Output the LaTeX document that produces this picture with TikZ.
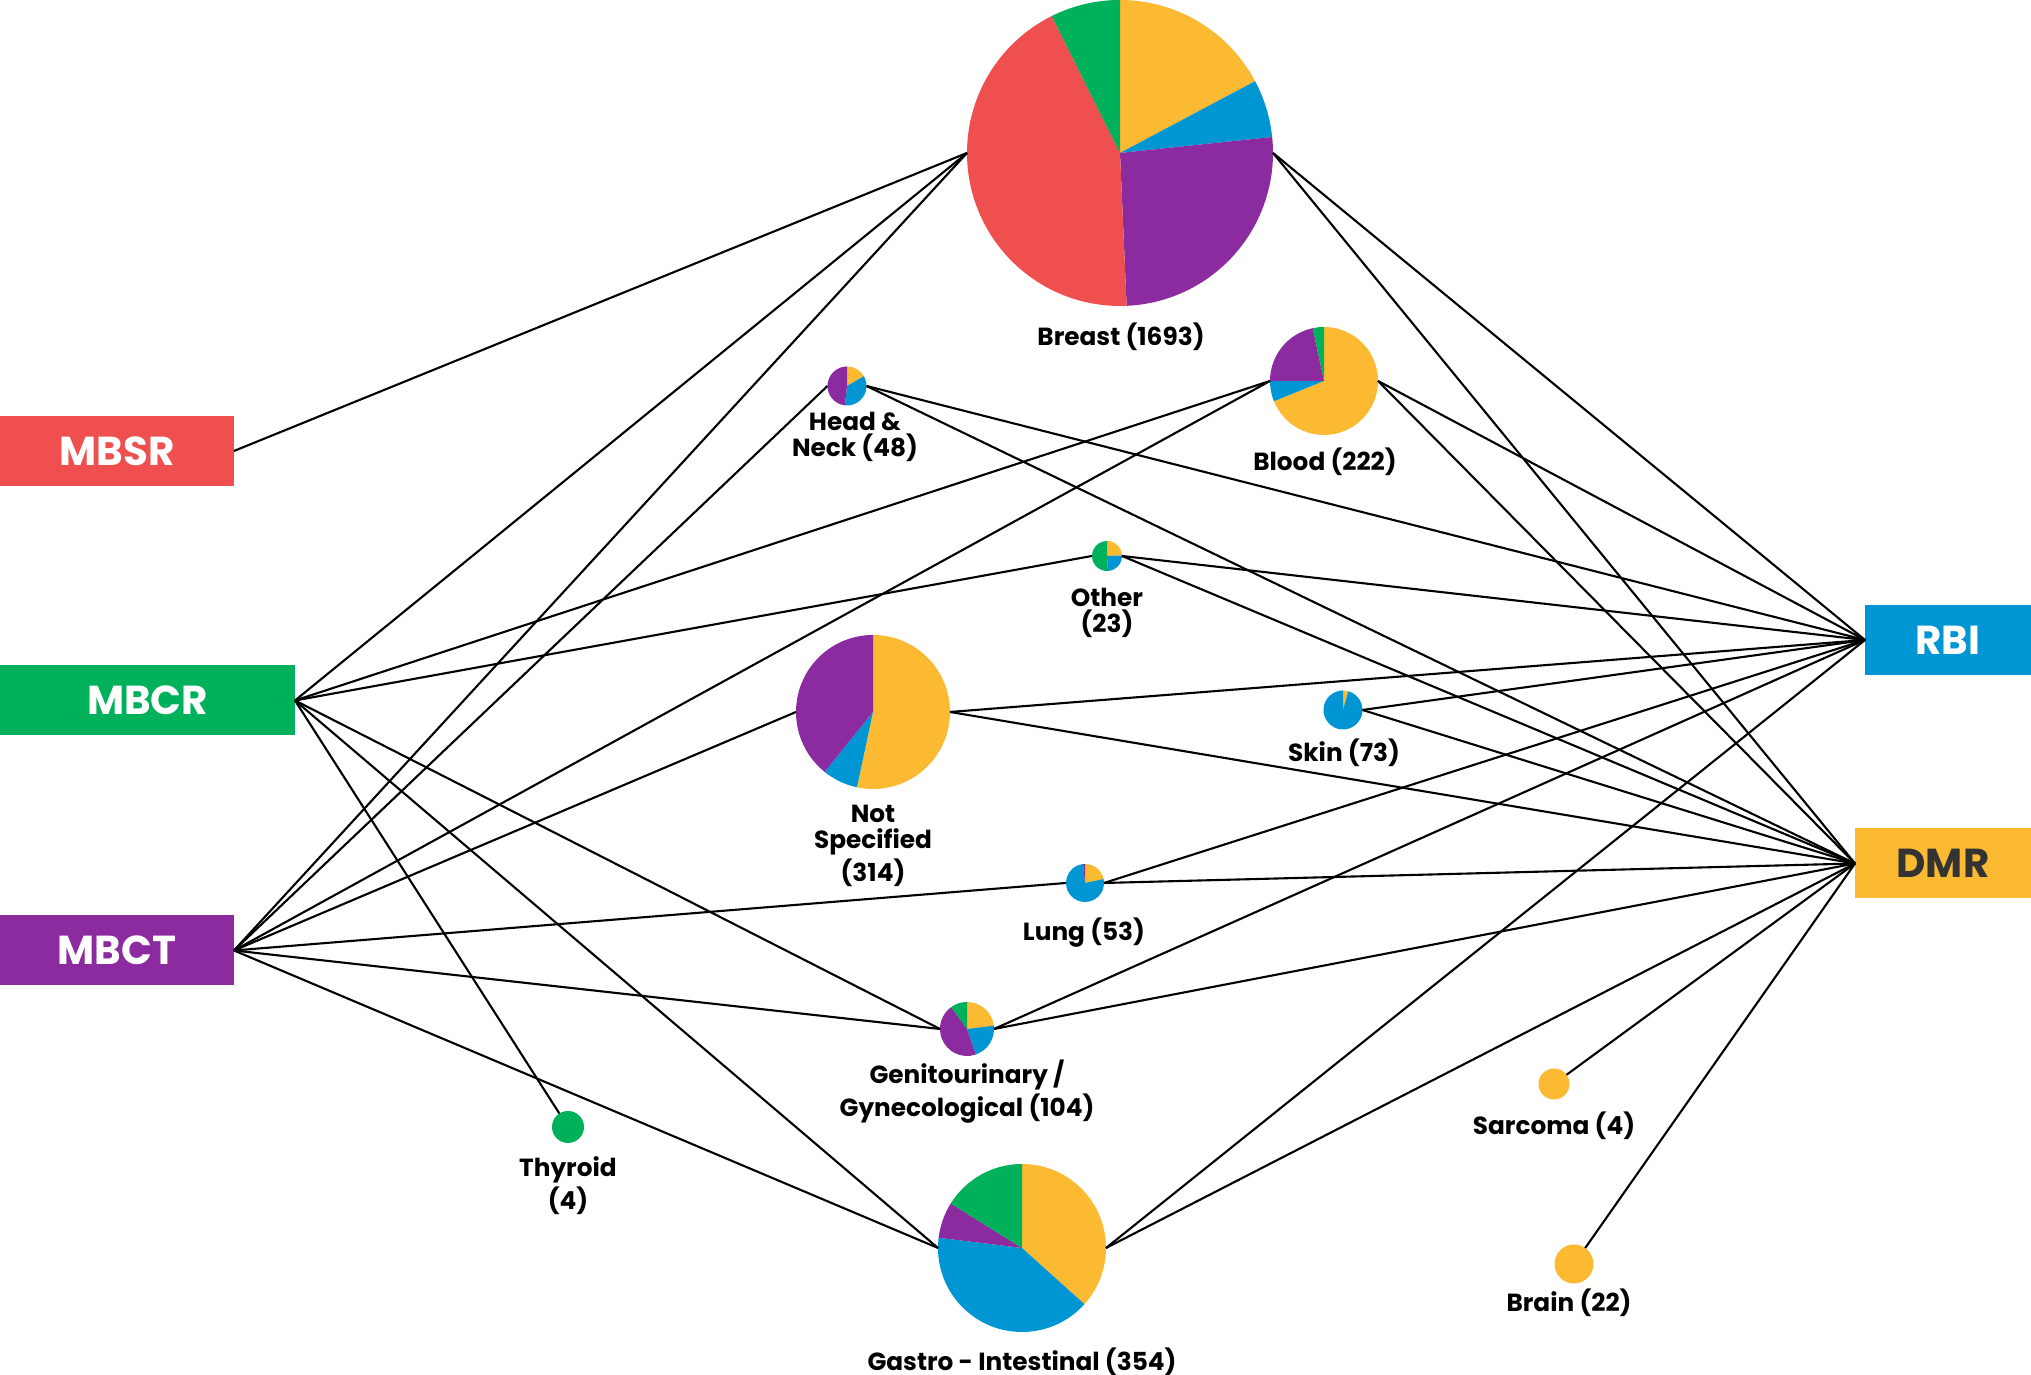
\documentclass[tikz,border=0pt]{standalone}
\usepackage{fontspec}
\setmainfont{Poppins}
\usetikzlibrary{
  calc,
}
\definecolor{mbsr}{HTML}{F04F4F}
\definecolor{mbcr}{HTML}{00B15B}
\definecolor{mbct}{HTML}{8C2A9F}
\definecolor{rbi}{HTML}{0096D4}
\definecolor{dmr}{HTML}{FBBA32}
\definecolor{dmrtext}{HTML}{333333}

\begin{document}
\begin{tikzpicture}[
    box/.style={
        rectangle, inner sep=0pt, outer sep=0pt,
        minimum height=.70cm, text=white,
        font=\fontsize{11.5}{12}\selectfont\bfseries,
      },
    pie/.style={
        circle, inner sep=0pt, outer sep=0pt,
      },
    lbl/.style={
        align=center, inner sep=0pt,
        font=\fontsize{7.05}{7.5}\selectfont\bfseries,
      },
    arr/.style={
        black, line width=.6pt,
      }
  ]
  \useasboundingbox (0,0) rectangle (20.31,13.75);

  % therapy boxes
  \node[box, fill=mbsr, minimum width=2.34cm] (mbsr) at (1.17,9.24) {MBSR};
  \node[box, fill=mbcr, minimum width=2.95cm] (mbcr) at (1.475,6.745) {MBCR};
  \node[box, fill=mbct, minimum width=2.34cm] (mbct) at (1.17,4.245) {MBCT};
  \node[box, fill=rbi, minimum width=1.66cm] (rbi) at (19.48,7.35) {RBI};
  \node[box, fill=dmr, minimum width=1.76cm, text=dmrtext] (dmr) at (19.43,5.115) {DMR};

  % cancer types as pies
  \foreach \n/\p/\r/\s in {
      breast/{11.20,12.22}/1.53/{90/28/dmr, 28/6/rbi, 6/-87.5/mbct, -87.5/-243.5/mbsr, -243.5/-270/mbcr},
      headneck/{8.47,9.89}/.195/{90/30/dmr, 30/-96/rbi, -96/-270/mbct},
      blood/{13.24,9.94}/.54/{90/-158/dmr, -158/-180/rbi, -180/-258/mbct, -258/-270/mbcr},
      other/{11.07,8.19}/.15/{90/2/dmr, 2/-86/rbi, -86/-270/mbcr},
      notspec/{8.73,6.63}/.77/{90/-102/dmr, -102/-129/rbi, -129/-270/mbct},
      skin/{13.43,6.65}/.195/{90/74/dmr, 74/-270/rbi},
      lung/{10.85,4.92}/.19/{90/12/dmr, 12/-264/rbi, -264/-270/mbct},
      gu/{9.67,3.46}/.27/{90/7/dmr, 7/-71/rbi, -71/-234/mbct, -234/-270/mbcr},
      gi/{10.22,1.27}/.84/{90/-42/dmr, -42/-187/rbi, -187/-212/mbct, -212/-270/mbcr},
      thyroid/{5.68,2.48}/.16/{90/-90/mbcr, -90/-270/mbcr},
      sarcoma/{15.54,2.91}/.155/{90/-90/dmr, -90/-270/dmr},
      brain/{15.74,1.11}/.195/{90/-90/dmr, -90/-270/dmr}%
    }{
      \node[pie, minimum size={2*\r cm}] (\n) at (\p) {};
      \foreach \a/\b/\c in \s {
          \fill[\c] (\n.center) -- ++(\a:\r) arc[start angle=\a, end angle=\b, radius=\r] -- cycle;
        }
    }

  % labels
  \foreach \n/\p/\t in {
      breast/{11.21,10.38}/{Breast (1693)},
      headneck/{8.55,9.38}/{Head \&\\Neck (48)},
      blood/{13.25,9.13}/{Blood (222)},
      other/{11.07,7.62}/{Other\\(23)},
      notspec/{8.73,5.29}/{Not\\Specified\\(314)},
      skin/{13.44,6.22}/{Skin (73)},
      lung/{10.84,4.42}/{Lung (53)},
      gu/{9.67,2.83}/{Genitourinary /\\Gynecological (104)},
      gi/{10.22,.13}/{Gastro - Intestinal (354)},
      thyroid/{5.68,1.89}/{Thyroid\\(4)},
      sarcoma/{15.54,2.49}/{Sarcoma (4)},
      brain/{15.69,.72}/{Brain (22)}%
    }{
      \node[lbl] (\n-lbl) at (\p) {\t};
    }

  % connections
  \draw[arr] (mbsr.east) -- (breast.west);
  \foreach \t in {breast, blood, other, gu, gi}
    \draw[arr] (mbcr.east) -- (\t.west);
  \draw[arr] (mbcr.east) -- (thyroid);
  \foreach \t in {breast, headneck, blood, notspec, lung, gu, gi}
    \draw[arr] (mbct.east) -- (\t.west);
  \foreach \t in {breast, headneck, blood, other, notspec, skin, lung, gu, gi}{
      \draw[arr] (\t.east) -- (rbi.west);
      \draw[arr] (\t.east) -- (dmr.west);
    }
  \draw[arr] (sarcoma) -- (dmr.west);
  \draw[arr] (brain) -- (dmr.west);
\end{tikzpicture}
\end{document}
